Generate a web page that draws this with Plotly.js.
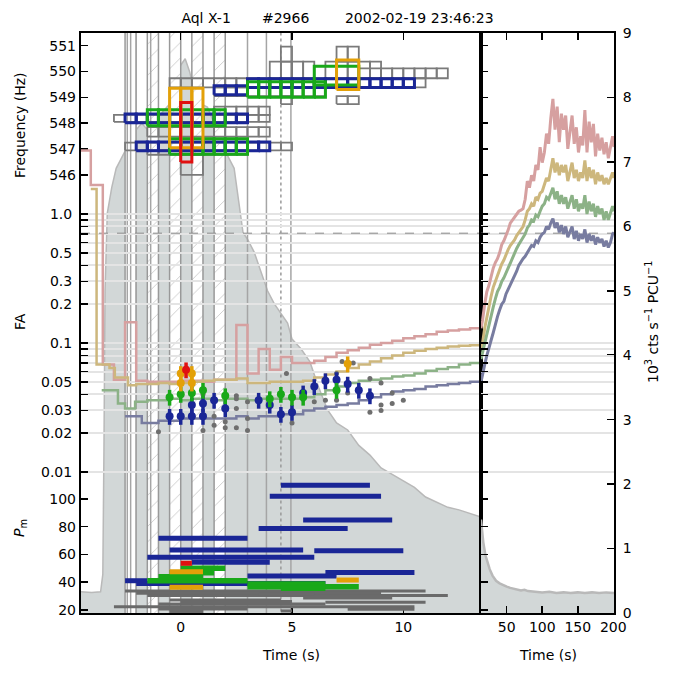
<!DOCTYPE html>
<html><head><meta charset="utf-8">
<script src="https://cdn.plot.ly/plotly-3.0.1.min.js"></script>
<style>html,body{margin:0;padding:0;background:#fff}</style>
</head><body><div id="chart" style="width:675px;height:675px"></div>
<script>
// ---------------- data ----------------
const lcLeftT = [-4.48,-4.0,-3.6,-3.5,-3.45,-3.4,-3.3,-3.1,-2.9,-2.6,-2.3,-2.0,-1.75,-1.5,-1.25,-1.0,-0.75,-0.5,-0.25,0.0,0.2,0.4,0.6,0.9,1.2,1.5,1.8,2.1,2.4,2.6,2.8,3.0,3.3,3.6,3.9,4.2,4.5,4.8,5.0,5.4,5.8,6.2,6.6,7.0,7.5,8.0,8.5,9.0,9.5,10.0,10.5,11.0,11.5,12.0,12.5,13.0,13.49];
const lcLeftRate = [0.33,0.32,0.33,0.6,2.5,5.0,6.2,6.6,6.9,7.1,7.3,7.5,7.6,7.5,7.6,7.7,7.8,7.9,8.3,8.5,8.6,8.4,8.1,7.9,7.85,7.6,7.3,7.1,6.9,6.4,5.9,5.8,5.6,5.3,5.0,4.8,4.65,4.5,4.25,4.1,3.9,3.5,3.15,2.95,2.84,2.6,2.45,2.25,2.15,2.05,1.95,1.8,1.72,1.64,1.6,1.54,1.49];
const lcRightT = [13.8,15,17,20,23,26,30,35,40,45,50,55,60,65,70,75,80,90,100,110,120,130,140,150,160,170,180,190,201];
const lcRightRate = [1.45,1.3,1.1,0.9,0.78,0.68,0.58,0.5,0.46,0.43,0.41,0.39,0.38,0.36,0.35,0.36,0.34,0.33,0.32,0.33,0.31,0.32,0.31,0.32,0.31,0.32,0.31,0.32,0.31];

// hatched (white) time windows and plain white gap
const hatchStrips = [[-1.5,-1.0],[-0.5,0.0],[0.5,1.0],[1.5,2.0]];
const plainStrips = [[-2.5,-2.0]];
const vLineTimes = [-2.4,-2.25,-2.0,-1.35,3.0,3.85,4.95];
const markTime = 4.5;

// FA threshold curves (left panel, step starts)
const faPinkT = [-4.48,-4.04,-3.5,-3.0,-2.5,-2.0,-1.5,-1.0,-0.5,0,0.5,1.0,1.5,2.0,2.5,3.0,3.5,4.0,4.5,5.0,5.5,6.0,6.5,7.0,7.5,8.0,8.5,9.0,9.5,10.0,10.5,11.0,11.5,12.0,12.5,13.0,13.49];
const faPinkV = [3.1,1.68,0.068,0.052,0.145,0.051,0.05,0.05,0.05,0.051,0.051,0.05,0.052,0.052,0.138,0.058,0.09,0.062,0.078,0.07,0.07,0.073,0.078,0.084,0.088,0.092,0.097,0.1,0.104,0.109,0.113,0.117,0.122,0.125,0.127,0.13,0.13];
const faTanT = [-4.04,-3.78,-3.2,-2.96,-2.37,-2.0,-1.5,-1.0,-0.5,0,0.5,1.0,1.5,2.0,2.5,3.0,3.5,4.0,4.5,5.0,5.5,6.0,6.5,7.0,7.5,8.0,8.5,9.0,9.5,10.0,10.5,11.0,11.5,12.0,12.5,13.0,13.49];
const faTanV = [1.56,0.068,0.064,0.054,0.047,0.048,0.048,0.049,0.048,0.049,0.05,0.051,0.052,0.052,0.053,0.049,0.049,0.05,0.05,0.05,0.051,0.054,0.057,0.06,0.064,0.068,0.072,0.076,0.08,0.084,0.087,0.09,0.092,0.094,0.095,0.096,0.096];
const faGreenT = [-3.55,-2.82,-2.5,-2.05,-1.5,-1.0,-0.5,0,0.5,1.0,1.5,2.0,2.5,3.0,3.5,4.0,4.5,5.0,5.5,6.0,6.5,7.0,7.5,8.0,8.5,9.0,9.5,10.0,10.5,11.0,11.5,12.0,12.5,13.0,13.49];
const faGreenV = [0.043,0.034,0.031,0.035,0.036,0.036,0.037,0.036,0.037,0.037,0.036,0.037,0.037,0.036,0.037,0.037,0.037,0.037,0.038,0.04,0.043,0.046,0.049,0.051,0.052,0.053,0.055,0.056,0.058,0.061,0.063,0.065,0.068,0.07,0.07];
const faSlateT = [-2.5,-1.75,-1.0,-0.5,0,0.5,1.0,1.5,2.0,2.5,3.0,3.5,4.0,4.5,5.0,5.5,6.0,6.5,7.0,7.5,8.0,8.5,9.0,9.5,10.0,10.5,11.0,11.5,12.0,12.5,13.0,13.49];
const faSlateV = [0.027,0.024,0.025,0.025,0.026,0.026,0.026,0.026,0.026,0.027,0.026,0.027,0.027,0.028,0.028,0.03,0.031,0.032,0.033,0.034,0.036,0.038,0.04,0.042,0.043,0.044,0.046,0.047,0.048,0.049,0.05,0.05];

// FA threshold curves (right panel)
const rT = [13.8,16,19,22,25,28,31,34,37,40,43,46,49,52,55,58,61,64,67,70,73,76,79,82,85,88,91,94,97,100,103,106,109,112,115,118,121,124,127,130,133,136,139,142,145,148,151,154,157,160,163,166,169,172,175,178,181,184,187,190,193,196,199,201];
const rPinkV = [0.13,0.15,0.2,0.25,0.28,0.33,0.38,0.42,0.45,0.5,0.58,0.62,0.68,0.75,0.85,0.9,0.95,1.0,1.05,1.07,1.1,1.3,1.8,1.6,2.0,1.8,2.4,2.2,3.3,2.5,3.0,4.2,3.5,5.5,7.8,4.5,6.8,3.6,6.0,4.5,5.8,3.2,4.4,5.8,3.5,4.7,3.0,4.0,3.4,6.4,3.0,5.2,3.6,5.0,2.8,4.2,3.1,3.9,2.9,3.6,2.7,3.4,4.0,3.3];
const rTanV = [0.09,0.1,0.13,0.16,0.19,0.23,0.27,0.3,0.34,0.38,0.41,0.44,0.49,0.53,0.57,0.6,0.63,0.68,0.72,0.76,0.8,0.9,1.05,1.1,1.2,1.15,1.35,1.3,1.45,1.5,1.7,1.9,1.8,2.3,2.7,2.1,2.5,2.0,2.4,2.1,2.4,1.8,2.1,2.5,1.9,2.2,1.8,2.1,1.9,2.6,1.8,2.3,1.9,2.2,1.7,2.1,1.8,2.0,1.7,1.9,1.7,1.9,2.1,1.9];
const rGreenV = [0.075,0.085,0.1,0.12,0.14,0.16,0.19,0.22,0.25,0.27,0.3,0.32,0.35,0.38,0.42,0.46,0.5,0.54,0.58,0.62,0.66,0.7,0.78,0.82,0.9,0.88,0.98,0.95,1.05,1.15,1.2,1.35,1.3,1.45,1.6,1.3,1.5,1.2,1.4,1.2,1.35,1.1,1.25,1.4,1.1,1.3,1.05,1.2,1.1,1.4,1.0,1.25,1.05,1.2,0.95,1.15,1.0,1.1,0.9,1.05,0.9,1.0,1.15,1.05];
const rSlateV = [0.05,0.058,0.068,0.08,0.09,0.105,0.12,0.14,0.16,0.18,0.2,0.21,0.24,0.26,0.28,0.31,0.33,0.36,0.4,0.43,0.45,0.47,0.5,0.53,0.57,0.56,0.62,0.6,0.66,0.7,0.72,0.8,0.76,0.85,0.92,0.78,0.86,0.72,0.82,0.7,0.8,0.66,0.72,0.8,0.64,0.74,0.62,0.7,0.64,0.76,0.6,0.7,0.62,0.68,0.58,0.66,0.6,0.64,0.56,0.62,0.55,0.6,0.7,0.72];
const faThreshold = 0.71;

// FA candidate points
const ptBlueT = [-0.5,0.0,0.5,0.5,1.0,1.0,1.5,2.0,3.5,4.0,4.5,5.0,5.5,6.0,6.5,7.0,7.5,8.0,8.5];
const ptBlueV = [0.027,0.027,0.033,0.027,0.034,0.027,0.036,0.031,0.036,0.033,0.028,0.029,0.041,0.046,0.051,0.052,0.048,0.043,0.039];
const ptGreenT = [-0.5,0.0,0.5,1.0,2.0,4.0,4.5,5.0,5.5,7.0];
const ptGreenV = [0.038,0.040,0.041,0.043,0.039,0.037,0.040,0.038,0.038,0.043];
const ptOrangeT = [0.0,0.0,0.5,0.5,7.5];
const ptOrangeV = [0.058,0.049,0.058,0.049,0.069];
const ptRedT = [0.24];
const ptRedV = [0.062];
const ptGrayT = [-1.0,1.0,1.0,1.5,1.5,2.0,2.0,2.5,2.5,2.5,2.5,3.0,3.0,3.0,4.75,5.0,6.0,6.5,7.0,7.0,7.25,7.75,7.5,8.5,8.5,9.0,9.0,9.0,9.5,9.5,10.0];
const ptGrayV = [0.0205,0.04,0.021,0.027,0.023,0.0245,0.022,0.039,0.037,0.031,0.022,0.035,0.026,0.021,0.058,0.024,0.035,0.036,0.058,0.036,0.072,0.07,0.041,0.053,0.029,0.049,0.033,0.030,0.041,0.034,0.036];

// frequency boxes: [tStart, tEnd, fLow, fHigh, window]
const boxGray = [[-2.5,5.0,546.95,547.25,0.5],[-1.5,3.0,546.78,546.95,0.5],[-3.0,4.0,548.05,548.32,0.5],[1.5,4.0,548.32,548.64,0.5],[-1.5,4.0,547.48,547.85,0.5],[-0.5,11.0,549.39,549.74,0.5],[1.5,6.5,549.05,549.39,0.5],[8.0,12.0,549.74,550.12,0.5],[4.0,6.0,549.74,550.38,0.5],[6.5,9.0,549.74,550.38,0.5],[4.5,5.0,550.38,550.96,0.5],[7.0,8.0,550.38,550.96,0.5],[7.0,8.0,548.74,549.05,0.5],[4.5,5.0,548.74,549.05,0.5],[0.0,1.0,546.0,546.78,1.0]];
const boxBlue = [[-2.0,4.0,546.93,547.27,0.5],[-2.5,3.0,548.02,548.36,0.5],[1.5,3.0,549.1,549.45,0.5],[3.0,10.5,549.38,549.72,0.5]];
const boxGreen = [[-0.5,3.0,546.8,547.4,0.5],[-1.5,2.0,547.9,548.52,0.5],[3.0,6.5,549.0,549.6,0.5],[6.0,8.0,549.48,550.2,2.0]];
const boxOrange = [[-0.5,1.0,547.05,549.35,0.5],[7.0,8.0,549.3,550.45,1.0]];
const boxRed = [[0.0,0.5,546.5,548.8,0.5]];

// P_m bars: [tStart, tEnd, Pm]
const pmGray = [[-2.5,11.0,33.5],[-1.5,12.0,30.3],[-3.0,10.5,22.3],[-0.5,4.5,27.0],[5.5,9.5,28.5],[6.5,11.0,25.5],[-1.0,6.5,24.2],[7.5,10.5,20.4],[-2.0,9.0,32.0],[0.0,5.0,26.0],[-1.0,3.0,20.6],[3.5,6.0,31.2],[-0.5,1.0,18.8],[4.5,5.0,19.2]];
const pmBlue = [[4.5,8.5,110],[4.0,9.0,102],[5.5,9.5,84.8],[3.5,7.5,78.8],[-1.0,3.0,71.6],[-0.5,5.5,63.2],[6.0,10.0,62.7],[-1.5,6.0,57.9],[0.5,4.0,54.3],[3.0,7.0,44.4],[6.5,10.5,47],[-2.5,-1.5,41],[-2.0,6.5,39]];
const pmGreen = [[0.0,2.0,50],[-0.5,1.5,46.8],[-1.0,1.0,43.9],[-1.5,3.0,41],[3.0,8.0,36.7],[3.0,6.5,38.6],[4.5,6.5,35.6]];
const pmOrange = [[-0.5,1.0,47.5],[-0.5,1.0,36.3],[7.0,8.0,41.5]];
const pmRed = [[0.0,0.5,53.6]];

// axes / ticks
const xRangeLeft = [-4.48, 13.49];
const xRangeRight = [13.8, 201];
const rateRange = [0, 9];
const freqRange = [529.05, 551.49];
const faLogRange = [-3.093, 1.403];
const pmRange = [17.7, 436.5];
const freqTicks = [546,547,548,549,550,551];
const faMajor = [0.01,0.02,0.03,0.05,0.1,0.2,0.3,0.5,1.0];
const faMajorText = ['0.01','0.02','0.03','0.05','0.1','0.2','0.3','0.5','1.0'];
const faMinor = [0.04,0.06,0.07,0.08,0.09,0.4,0.6,0.7,0.8,0.9];
const pmTicks = [20,40,60,80,100];
const rateTicks = [0,1,2,3,4,5,6,7,8,9];

// colours
const cFill = '#d2d7d7', cOutline = '#b9b9b9';
const cPink = '#d6a0a0', cTan = '#cdb77d', cGreenL = '#8cb287', cSlate = '#787ca0';
const cBlue = '#1a2696', cGreen = '#19a819', cOrange = '#e3a008', cRed = '#e01010', cGray = '#6e6e6e';
const cGrid = '#e4e4e4';

// ---------------- helpers ----------------
function boxes(list){const xs=[],ys=[];list.forEach(([t0,t1,f0,f1,w])=>{for(let s=t0;s<t1-1e-9;s+=w){const e=Math.min(s+w,t1);xs.push(s,e,e,s,s,null);ys.push(f0,f0,f1,f1,f0,null);}});return {xs,ys};}
function bars(list){const xs=[],ys=[];list.forEach(([t0,t1,v])=>{xs.push(t0,t1,null);ys.push(v,v,null);});return {xs,ys};}
function strips(list){const xs=[],ys=[];list.forEach(([a,b])=>{xs.push(a,b,b,a,a,null);ys.push(-1,-1,10,10,-1,null);});return {xs,ys};}
function vlines(list){const xs=[],ys=[];list.forEach(t=>{xs.push(t,t,null);ys.push(-1,10,null);});return {xs,ys};}

const traces = [];
const base = {type:'scatter', hoverinfo:'skip', showlegend:false};
// light curves
traces.push({...base, x:lcLeftT, y:lcLeftRate, xaxis:'x', yaxis:'y', mode:'lines', fill:'tozeroy', fillcolor:cFill, line:{color:cOutline, width:1.5}});
traces.push({...base, x:lcRightT, y:lcRightRate, xaxis:'x2', yaxis:'y', mode:'lines', fill:'tozeroy', fillcolor:cFill, line:{color:cOutline, width:2.5}});
// strips
const hs = strips(hatchStrips);
traces.push({...base, x:hs.xs, y:hs.ys, xaxis:'x', yaxis:'y', mode:'lines', fill:'toself', fillcolor:'white',
  fillpattern:{shape:'/', bgcolor:'white', fgcolor:'#c9c9c9', size:11, solidity:0.08}, line:{color:'#999999', width:1.5}});
const ps = strips(plainStrips);
traces.push({...base, x:ps.xs, y:ps.ys, xaxis:'x', yaxis:'y', mode:'lines', fill:'toself', fillcolor:'white', line:{color:'#999999', width:1.5}});
const vl = vlines(vLineTimes);
traces.push({...base, x:vl.xs, y:vl.ys, xaxis:'x', yaxis:'y', mode:'lines', line:{color:'#a5a5a5', width:1.5}});
traces.push({...base, x:[markTime,markTime], y:[-1,10], xaxis:'x', yaxis:'y', mode:'lines', line:{color:'#999999', width:1.5, dash:'dot'}});
// frequency boxes
[[boxGray,'#7a7a7a',1.8],[boxBlue,cBlue,3],[boxGreen,cGreen,3],[boxOrange,cOrange,3],[boxRed,cRed,3]].forEach(([lst,col,w])=>{
  const b = boxes(lst);
  traces.push({...base, x:b.xs, y:b.ys, xaxis:'x', yaxis:'y2', mode:'lines', line:{color:col, width:w}});
});
// FA panel
traces.push({...base, x:xRangeLeft, y:[faThreshold,faThreshold], xaxis:'x', yaxis:'y3', mode:'lines', line:{color:'#8a8a8a', width:1, dash:'dash'}});
[[faPinkT,faPinkV,cPink],[faTanT,faTanV,cTan],[faGreenT,faGreenV,cGreenL],[faSlateT,faSlateV,cSlate]].forEach(([t,v,c])=>{
  traces.push({...base, x:t, y:v, xaxis:'x', yaxis:'y3', mode:'lines', line:{color:c, width:2.5, shape:'hv'}});
});
traces.push({...base, x:ptGrayT, y:ptGrayV, xaxis:'x', yaxis:'y3', mode:'markers', marker:{color:cGray, size:5}});
[[ptBlueT,ptBlueV,cBlue],[ptGreenT,ptGreenV,cGreen],[ptOrangeT,ptOrangeV,cOrange],[ptRedT,ptRedV,cRed]].forEach(([t,v,c])=>{
  traces.push({...base, x:t, y:v, xaxis:'x', yaxis:'y3', mode:'markers', marker:{color:c, size:8},
    error_y:{type:'percent', value:14, color:c, thickness:3.5, width:0}});
});
// right panel FA curves
traces.push({...base, x:xRangeRight, y:[faThreshold,faThreshold], xaxis:'x2', yaxis:'y5', mode:'lines', line:{color:'#8a8a8a', width:1, dash:'dash'}});
[[rPinkV,cPink],[rTanV,cTan],[rGreenV,cGreenL],[rSlateV,cSlate]].forEach(([v,c])=>{
  traces.push({...base, x:rT, y:v, xaxis:'x2', yaxis:'y5', mode:'lines', line:{color:c, width:3}});
});
// P_m bars
[[pmGray,'#6a6a6a',3],[pmBlue,cBlue,5],[pmGreen,cGreen,5.5],[pmOrange,cOrange,5],[pmRed,cRed,5]].forEach(([lst,col,w])=>{
  const b = bars(lst);
  traces.push({...base, x:b.xs, y:b.ys, xaxis:'x', yaxis:'y4', mode:'lines', line:{color:col, width:w}});
});
// empty traces for right-panel tick axes
traces.push({...base, x:[], y:[], xaxis:'x2', yaxis:'y6', mode:'lines'});
traces.push({...base, x:[], y:[], xaxis:'x2', yaxis:'y7', mode:'lines'});

const split = 400/533;
const tickBase = {ticks:'inside', ticklen:7, tickwidth:1.5, tickcolor:'black', showgrid:false, zeroline:false, fixedrange:true};
const faMinorOpt = {tickvals:faMinor, ticks:'inside', ticklen:7, tickwidth:1.5, tickcolor:'black', showgrid:true, gridcolor:cGrid, gridwidth:2};
const nb = '\u00a0';
const layout = {
  width:675, height:675,
  margin:{l:81, r:61, t:33, b:62, pad:0},
  paper_bgcolor:'white', plot_bgcolor:'rgba(0,0,0,0)',
  showlegend:false,
  font:{family:'DejaVu Sans, sans-serif', size:14, color:'black'},
  title:{text:'Aql X-1'+nb.repeat(7)+'#2966'+nb.repeat(8)+'2002-02-19 23:46:23', x:0.5, xref:'container', xanchor:'center', y:1-18/675, yref:'container', yanchor:'middle', font:{size:14}},
  xaxis:{...tickBase, domain:[0,split], range:xRangeLeft, anchor:'y3', tickvals:[0,5,10], showline:true, linewidth:2, linecolor:'black', mirror:'ticks'},
  xaxis2:{...tickBase, domain:[split,1], range:xRangeRight, anchor:'y', tickvals:[50,100,150,200], showline:true, linewidth:2, linecolor:'black', mirror:'ticks'},
  yaxis:{...tickBase, domain:[0,1], range:rateRange, anchor:'x2', side:'right', tickvals:rateTicks, showline:true, linewidth:2, linecolor:'black', mirror:true, ticklabelstandoff:4},
  yaxis2:{...tickBase, domain:[0,1], range:freqRange, anchor:'x', side:'left', tickvals:freqTicks, showline:false, ticklabelstandoff:4},
  yaxis3:{...tickBase, domain:[0,1], type:'log', range:faLogRange, anchor:'x', side:'left', tickvals:faMajor, ticktext:faMajorText, showline:true, linewidth:2, linecolor:'black', mirror:true, showgrid:true, gridcolor:cGrid, gridwidth:2, ticklabelstandoff:4, minor:faMinorOpt},
  yaxis4:{...tickBase, domain:[0,1], range:pmRange, anchor:'x', side:'left', tickvals:pmTicks, showline:false, ticklabelstandoff:4},
  yaxis5:{...tickBase, domain:[0,1], type:'log', range:faLogRange, anchor:'x2', side:'left', tickvals:faMajor, showticklabels:false, showline:false, showgrid:true, gridcolor:cGrid, gridwidth:2, minor:faMinorOpt},
  yaxis6:{...tickBase, domain:[0,1], range:freqRange, anchor:'x2', side:'left', tickvals:freqTicks, showticklabels:false, showline:false},
  yaxis7:{...tickBase, domain:[0,1], range:pmRange, anchor:'x2', side:'left', tickvals:pmTicks, showticklabels:false, showline:false},
  annotations:[
    {text:'Frequency (Hz)', xref:'paper', yref:'paper', x:(20-81)/533, y:(613-125)/580, textangle:-90, showarrow:false, xanchor:'center', yanchor:'middle'},
    {text:'FA', xref:'paper', yref:'paper', x:(20-81)/533, y:(613-322)/580, textangle:-90, showarrow:false, xanchor:'center', yanchor:'middle'},
    {text:'<i>P</i><sub>m</sub>', xref:'paper', yref:'paper', x:(20-81)/533, y:(613-528)/580, textangle:-90, showarrow:false, xanchor:'center', yanchor:'middle'},
    {text:'10<sup>3</sup> cts s<sup>\u22121</sup> PCU<sup>\u22121</sup>', xref:'paper', yref:'paper', x:(652-81)/533, y:(613-322)/580, textangle:-90, showarrow:false, xanchor:'center', yanchor:'middle'},
    {text:'Time (s)', xref:'paper', yref:'paper', x:(291-81)/533, y:(613-655)/580, showarrow:false, xanchor:'center', yanchor:'middle'},
    {text:'Time (s)', xref:'paper', yref:'paper', x:(548-81)/533, y:(613-655)/580, showarrow:false, xanchor:'center', yanchor:'middle'}
  ]
};
Plotly.newPlot('chart', traces, layout, {staticPlot:true, displayModeBar:false});
</script>
</body></html>
